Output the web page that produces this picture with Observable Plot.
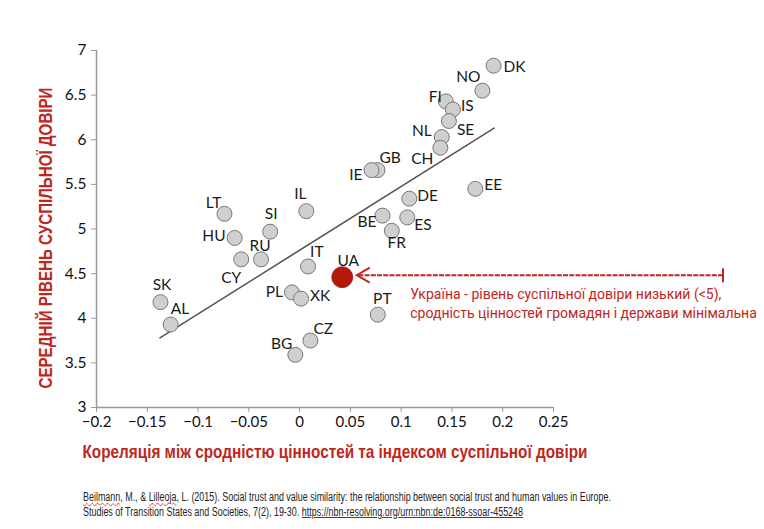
<!DOCTYPE html>
<html>
<head>
<meta charset="utf-8">
<script src="https://cdn.jsdelivr.net/npm/d3@7"></script>
<script src="https://cdn.jsdelivr.net/npm/@observablehq/plot@0.6"></script>
<style>
  html, body { margin: 0; padding: 0; background: #fff; }
  #wrap { position: relative; width: 764px; height: 529px; overflow: hidden; }
  #cap { position: absolute; left: 83px; top: 490px; font-family: "Liberation Sans", Arial, sans-serif; font-size: 12px; line-height: 14.5px; color: #222; white-space: nowrap; transform-origin: 0 0; }
  #cap span.line { display: inline-block; }
  #cap .sp { text-decoration: underline wavy #d33; text-decoration-thickness: 1px; }
  #cap u { text-decoration-color: #444; }
</style>
</head>
<body>
<div id="wrap">
  <div id="chart"></div>
  <div id="cap"><span class="line" id="cap1"><span class="sp">Beilmann</span>, M., &amp; <span class="sp">Lilleoja</span>, L. (2015). Social trust and value similarity: the relationship between social trust and human values in Europe.</span><br><span class="line">Studies of Transition States and Societies, 7(2), 19-30. <u>https://nbn-resolving.org/urn:nbn:de:0168-ssoar-455248</u></span></div>
</div>
<script>
// ---- data ----
const codes = ["DK","NO","FI","IS","SE","NL","CH","GB","IE","EE","DE","BE","ES","FR","IL","LT","SI","HU","RU","CY","IT","UA","PL","XK","PT","CZ","BG","SK","AL"];
const similarity = [0.191,0.180,0.144,0.151,0.147,0.140,0.1386,0.0767,0.0708,0.173,0.108,0.0816,0.106,0.0908,0.0066,-0.074,-0.029,-0.064,-0.038,-0.0575,0.0083,0.042,-0.0075,0.0014,0.077,0.0106,-0.0042,-0.137,-0.127];
const trust = [6.83,6.55,6.43,6.34,6.21,6.03,5.91,5.66,5.66,5.45,5.34,5.15,5.13,4.98,5.20,5.17,4.97,4.90,4.66,4.66,4.58,4.46,4.29,4.22,4.04,3.75,3.59,4.18,3.93];
const trendX = [-0.1375, 0.1915];
const trendY = [3.78, 6.13];
const xTicks = [-0.2,-0.15,-0.1,-0.05,0,0.05,0.1,0.15,0.2,0.25];
const xTickLabels = ["−0.2","−0.15","−0.1","−0.05","0","0.05","0.1","0.15","0.2","0.25"];
const yTicks = [3,3.5,4,4.5,5,5.5,6,6.5,7];
const yTickLabels = ["3","3.5","4","4.5","5","5.5","6","6.5","7"];
const highlight = "UA";
const xTitle = "Кореляція між сродністю цінностей та індексом суспільної довіри";
const yTitle = "СЕРЕДНІЙ РІВЕНЬ СУСПІЛЬНОЇ ДОВІРИ";
const note = "Україна - рівень суспільної довіри низький (<5),\nсродність цінностей громадян і держави мінімальна";

// ---- label placement (anchor, dx, dy in px) ----
const place = {
  DK:["start",10,1], NO:["end",-2,-14], FI:["end",-4,-4], IS:["start",8,-3], SE:["start",8,9],
  NL:["end",-10,-6], CH:["end",-7,11], GB:["start",2,-12], IE:["end",-9,5], EE:["start",9,-4],
  DE:["start",8,-3], BE:["end",-6,6], ES:["start",7,8], FR:["middle",5,12], IL:["middle",-6,-17],
  LT:["end",-3,-11], SI:["middle",1,-18], HU:["end",-9,-2], RU:["middle",-1,-13], CY:["end",0,19],
  IT:["start",2,-14], UA:["middle",6,-16], PL:["end",-9,0], XK:["start",9,-3], PT:["middle",4.5,-16],
  CZ:["start",3,-12], BG:["end",-3,-11], SK:["middle",1.5,-17], AL:["start",0,-15]
};

const data = codes.map((c, i) => ({code: c, x: similarity[i], y: trust[i]}));
const others = data.filter(d => d.code !== highlight);
const hi = data.filter(d => d.code === highlight);
const trend = trendX.map((x, i) => ({x, y: trendY[i]}));

const RED = "#c0261b";
const labelFont = "Lato, 'Open Sans', sans-serif";
const titleFont = "'Liberation Sans', Arial, sans-serif";

const labelMarks = data.map(d => {
  const [anchor, dx, dy] = place[d.code];
  return Plot.text([d], {x: "x", y: "y", text: "code", textAnchor: anchor, dx, dy,
    fontSize: 15.5, fill: "#1a1a1a", fontFamily: labelFont});
});

// arrow annotation: from right end toward the highlighted point
function arrowMark(index, scales, values, dims) {
  const g = d3.create("svg:g");
  const d = hi[0];
  const cx = scales.x(d.x), cy = scales.y(d.y) - 1.5;
  const tip = cx + 15, tail = dims.width - 41;
  g.append("line").attr("x1", tail).attr("x2", tip + 1).attr("y1", cy).attr("y2", cy)
    .attr("stroke", RED).attr("stroke-width", 2).attr("stroke-dasharray", "5,1.2");
  g.append("path").attr("d", `M${tip + 13},${cy - 7.5}L${tip},${cy}L${tip + 13},${cy + 7.5}`)
    .attr("fill", "none").attr("stroke", RED).attr("stroke-width", 2);
  g.append("line").attr("x1", tail).attr("x2", tail).attr("y1", cy - 7).attr("y2", cy + 7)
    .attr("stroke", RED).attr("stroke-width", 2);
  return g.node();
}

const chart = Plot.plot({
  width: 764,
  height: 470,
  marginLeft: 96,
  marginRight: 211,
  marginTop: 50,
  marginBottom: 63,
  style: {fontFamily: labelFont, fontSize: "15px", color: "#111", background: "white", overflow: "visible"},
  x: {domain: [xTicks[0], xTicks[xTicks.length - 1]], axis: null},
  y: {domain: [yTicks[0], yTicks[yTicks.length - 1]], axis: null},
  marks: [
    Plot.ruleX([xTicks[0]], {stroke: "#999", strokeWidth: 1.5}),
    Plot.ruleY([yTicks[0]], {stroke: "#999", strokeWidth: 1.5}),
    Plot.axisX({ticks: xTicks, tickFormat: (d) => xTickLabels[xTicks.indexOf(d)], tickSize: 5, tickPadding: 4,
      stroke: "#999", fill: "#111", fontSize: 15, label: null}),
    Plot.axisY({ticks: yTicks, tickFormat: (d) => yTickLabels[yTicks.indexOf(d)], tickSize: 5, tickPadding: 5,
      stroke: "#999", fill: "#111", fontSize: 15.5, label: null}),
    Plot.line(trend, {x: "x", y: "y", stroke: "#555", strokeWidth: 1.6}),
    Plot.dot(others, {x: "x", y: "y", r: 7.5, fill: "#cfcfcf", stroke: "#777", strokeWidth: 1}),
    Plot.dot(hi, {x: "x", y: "y", r: 10.5, fill: "#b3180c", stroke: "#a01008", strokeWidth: 0.8}),
    ...labelMarks,
    arrowMark,
    Plot.text(hi, {x: "x", y: "y", text: () => note, textAnchor: "start", lineAnchor: "top",
      dx: 68, dy: 9, lineHeight: 1.33, fontSize: 14, fill: RED,
      fontFamily: "Roboto, 'Liberation Sans', sans-serif"}),
    Plot.text([xTitle], {frameAnchor: "bottom", lineAnchor: "middle", textAnchor: "middle", dx: 10, dy: 44,
      fontSize: 19, fontWeight: "bold", fill: RED, fontFamily: titleFont}),
    Plot.text([yTitle], {frameAnchor: "left", lineAnchor: "middle", textAnchor: "middle", dx: -50.5, dy: 9,
      rotate: -90, fontSize: 19, fontWeight: "bold", fill: RED, fontFamily: titleFont})
  ]
});
document.getElementById("chart").appendChild(chart);

// condense the bold titles to the narrow look of the original
d3.select(chart).selectAll("text").each(function() {
  const t = this.textContent;
  if (t === xTitle) d3.select(this).attr("textLength", 505).attr("lengthAdjust", "spacingAndGlyphs");
  if (t === yTitle) d3.select(this).attr("textLength", 301).attr("lengthAdjust", "spacingAndGlyphs");
});

// condense the caption to the original's width
const cap = document.getElementById("cap");
const w1 = document.getElementById("cap1").getBoundingClientRect().width;
cap.style.transform = `scaleX(${528 / w1})`;
</script>
</body>
</html>
